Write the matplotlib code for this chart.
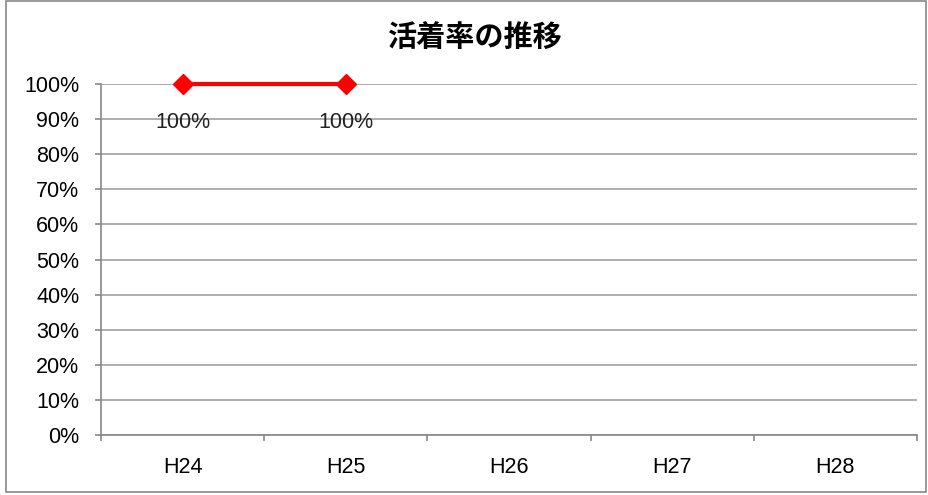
import numpy as np
import matplotlib.pyplot as plt
from matplotlib.patches import Rectangle
from matplotlib.ticker import FixedLocator, NullFormatter

plt.rcParams['font.family'] = ['Noto Sans CJK JP', 'DejaVu Sans']

categories = ["H24", "H25", "H26", "H27", "H28"]
rates = [100, 100]          # only H24 and H25 have values
y_ticks = list(range(0, 101, 10))
title = "活着率の推移"

LAT = ["Liberation Sans", "DejaVu Sans"]


def main():
    fig = plt.figure(figsize=(9.29, 4.95), dpi=100)
    ax = fig.add_axes([101 / 929, 60 / 495, 816 / 929, 351 / 495])

    fig.add_artist(Rectangle((6 / 929, 3 / 495), 920 / 929, 491 / 495,
                             transform=fig.transFigure, fill=False,
                             edgecolor="#888888", linewidth=1.2))

    x = np.arange(len(rates))
    ax.plot(x, rates, color="#ff0000", linewidth=3, marker="D",
            markersize=10, zorder=3, clip_on=False)
    for xi, v in zip(x, rates):
        ax.annotate(f"{v}%", (xi, v), xytext=(0, -28), textcoords="offset points",
                    ha="center", va="center", fontsize=15.5, color="#222222",
                    family=LAT)

    ax.set_xlim(-0.5, len(categories) - 0.5)
    ax.set_ylim(0, 100)
    ax.set_yticks(y_ticks)
    ax.set_yticklabels([f"{t}%" for t in y_ticks], fontsize=15.5, family=LAT)
    ax.yaxis.grid(True, color="#a0a0a0", linewidth=1.2)
    ax.set_axisbelow(True)

    ax.xaxis.set_major_locator(FixedLocator(np.arange(len(categories) + 1) - 0.5))
    ax.xaxis.set_major_formatter(NullFormatter())
    ax.xaxis.set_minor_locator(FixedLocator(np.arange(len(categories))))
    ax.set_xticklabels(categories, minor=True, fontsize=15.5, family=LAT)
    ax.tick_params(axis="x", which="minor", length=0, pad=16)
    ax.tick_params(axis="both", which="major", length=4.5, color="#888888", width=1.2)
    ax.tick_params(axis="y", pad=11)

    for s in ["top", "right"]:
        ax.spines[s].set_visible(False)
    for s in ["left", "bottom"]:
        ax.spines[s].set_color("#888888")
        ax.spines[s].set_linewidth(1.2)

    fig.text(475 / 929, 1 - 38 / 495, title, ha="center", va="center",
             fontsize=21, fontweight="bold")

    fig.savefig("out.png", dpi=100)


if __name__ == "__main__":
    main()
